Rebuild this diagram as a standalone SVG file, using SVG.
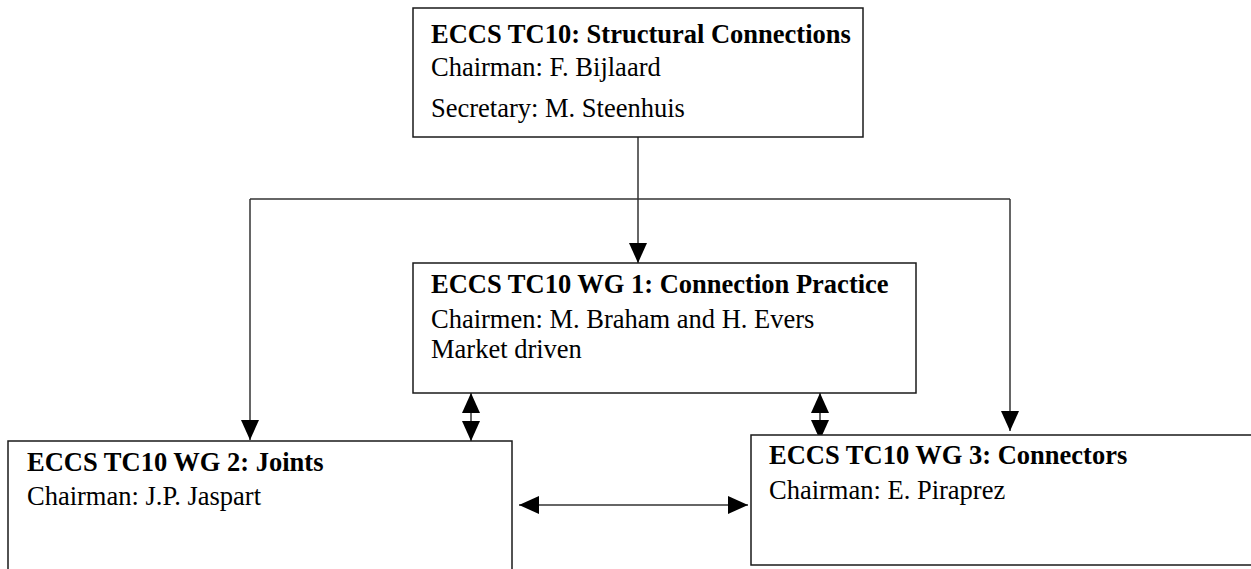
<svg xmlns="http://www.w3.org/2000/svg" width="1251" height="569" viewBox="0 0 1251 569">
  <style>
    .box { fill: #ffffff; stroke: #1a1a1a; stroke-width: 1.5; }
    .t { font-family: "Liberation Serif", "Times New Roman", serif; font-size: 26.5px; fill: #000; }
    .b { font-weight: bold; }
    .c { fill: none; stroke: #333; stroke-width: 1.5; }
  </style>
  <defs>
    <marker id="ah" markerUnits="userSpaceOnUse" markerWidth="20" markerHeight="18" refX="20" refY="9" orient="auto-start-reverse" viewBox="0 0 20 18">
      <path d="M0,0 L20,9 L0,18 z" fill="#000"/>
    </marker>
  </defs>
  <rect width="1251" height="569" fill="#fff"/>

  <g id="connectors">
    <line class="c" x1="638" y1="137" x2="638" y2="263" marker-end="url(#ah)"/>
    <polyline class="c" points="250,199 1010,199"/>
    <line class="c" x1="250" y1="199" x2="250" y2="440" marker-end="url(#ah)"/>
    <line class="c" x1="1010" y1="199" x2="1010" y2="431" marker-end="url(#ah)"/>
    <line class="c" x1="471" y1="393" x2="471" y2="441" marker-start="url(#ah)" marker-end="url(#ah)"/>
    <line class="c" x1="820" y1="393" x2="820" y2="440" marker-start="url(#ah)" marker-end="url(#ah)"/>
    <line class="c" x1="519" y1="505" x2="748" y2="505" marker-start="url(#ah)" marker-end="url(#ah)"/>
  </g>

  <g id="tc10">
    <rect class="box" x="413" y="8" width="450" height="129"/>
    <text class="t b" x="431" y="43">ECCS TC10: Structural Connections</text>
    <text class="t" x="431" y="76">Chairman: F. Bijlaard</text>
    <text class="t" x="431" y="117">Secretary: M. Steenhuis</text>
  </g>

  <g id="wg1">
    <rect class="box" x="413" y="263" width="503" height="130"/>
    <text class="t b" x="431" y="293">ECCS TC10 WG 1: Connection Practice</text>
    <text class="t" x="431" y="328">Chairmen: M. Braham and H. Evers</text>
    <text class="t" x="431" y="358">Market driven</text>
  </g>

  <g id="wg2">
    <rect class="box" x="8" y="441" width="504" height="140"/>
    <text class="t b" x="27" y="471">ECCS TC10 WG 2: Joints</text>
    <text class="t" x="27" y="505">Chairman: J.P. Jaspart</text>
  </g>

  <g id="wg3">
    <rect class="box" x="751" y="435" width="520" height="130"/>
    <text class="t b" x="769" y="464">ECCS TC10 WG 3: Connectors</text>
    <text class="t" x="769" y="499">Chairman: E. Piraprez</text>
  </g>
</svg>
